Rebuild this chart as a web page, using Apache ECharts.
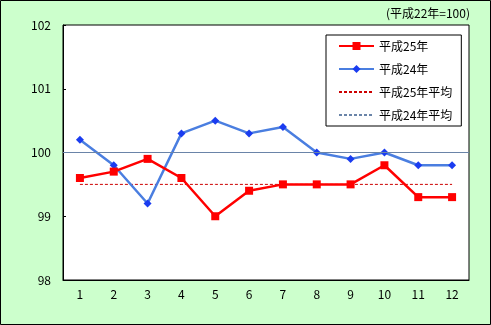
<!DOCTYPE html>
<html><head><meta charset="utf-8">
<script src="https://cdn.jsdelivr.net/npm/echarts@6/dist/echarts.min.js"></script>
<style>html,body{margin:0;padding:0;background:#fff}#c{width:491px;height:325px}</style>
</head><body><div id="c"></div>
<script>
const months = ['1','2','3','4','5','6','7','8','9','10','11','12'];
const h25 = [99.6, 99.7, 99.9, 99.6, 99.0, 99.4, 99.5, 99.5, 99.5, 99.8, 99.3, 99.3];
const h24 = [100.2, 99.8, 99.2, 100.3, 100.5, 100.3, 100.4, 100.0, 99.9, 100.0, 99.8, 99.8];
const avg25 = 99.5;
const avg24 = 100.0;
const seriesNames = ['平成25年', '平成24年', '平成25年平均', '平成24年平均'];
const unitNote = '(平成22年=100)';

const font = '"Noto Sans CJK JP", sans-serif';
const chart = echarts.init(document.getElementById('c'));
chart.setOption({
  animation: false,
  backgroundColor: '#ccffcc',
  textStyle: { fontFamily: font },
  title: {
    text: unitNote, right: 21, top: 7, padding: 0,
    textStyle: { fontSize: 12, fontWeight: 'normal', color: '#000', fontFamily: font }
  },
  graphic: [{
    type: 'rect', silent: true, z: 100,
    shape: { x: 0.5, y: 0.5, width: 490, height: 324 },
    style: { fill: 'none', stroke: '#000', lineWidth: 1 }
  }],
  grid: {
    left: 63, top: 25, width: 406, height: 255,
    show: true, backgroundColor: '#fff', borderColor: '#000', borderWidth: 1
  },
  legend: {
    orient: 'vertical', left: 326, top: 35,
    padding: [5, 9, 5, 12], itemGap: 11, itemWidth: 35, itemHeight: 10,
    backgroundColor: '#fff', borderColor: '#000', borderWidth: 1,
    textStyle: { fontSize: 12, color: '#000', fontFamily: font },
    data: [
      { name: seriesNames[0] },
      { name: seriesNames[1] },
      { name: seriesNames[2], itemStyle: { opacity: 0 } },
      { name: seriesNames[3], itemStyle: { opacity: 0 } }
    ]
  },
  xAxis: {
    type: 'category', data: months, boundaryGap: true,
    axisLine: { lineStyle: { color: '#000' } },
    axisTick: { show: false },
    axisLabel: { fontSize: 12, color: '#000', margin: 8, fontFamily: font },
    splitLine: { show: false }
  },
  yAxis: {
    type: 'value', min: 98, max: 102, interval: 1,
    axisLine: { show: true, lineStyle: { color: '#000' } },
    axisTick: { show: true, inside: true, length: 3, lineStyle: { color: '#000' } },
    axisLabel: { fontSize: 12, color: '#000', margin: 12, fontFamily: font },
    splitLine: { show: false }
  },
  series: [
    {
      name: seriesNames[0], type: 'line', data: h25,
      symbol: 'rect', symbolSize: 8, z: 5,
      itemStyle: { color: '#ff0000' },
      lineStyle: { color: '#ff0000', width: 2.5 }
    },
    {
      name: seriesNames[1], type: 'line', data: h24,
      symbol: 'diamond', symbolSize: 8, z: 4,
      itemStyle: { color: '#1a3cf0' },
      lineStyle: { color: '#4a7ee0', width: 2.5 }
    },
    {
      name: seriesNames[2], type: 'line', data: months.map(() => avg25),
      symbol: 'none', z: 2,
      itemStyle: { color: '#cc0000' },
      lineStyle: { color: '#cc0000', width: 1, type: [3, 2] }
    },
    {
      name: seriesNames[3], type: 'line', data: months.map(() => avg24),
      symbol: 'none', z: 2,
      itemStyle: { color: '#6a84a8' },
      lineStyle: { color: '#6a84a8', width: 1, type: [3, 2] },
      markLine: {
        silent: true, symbol: 'none', label: { show: false },
        lineStyle: { color: '#6a84a8', width: 1, type: 'solid' },
        data: [{ yAxis: avg24 }]
      }
    }
  ]
});
</script></body></html>
